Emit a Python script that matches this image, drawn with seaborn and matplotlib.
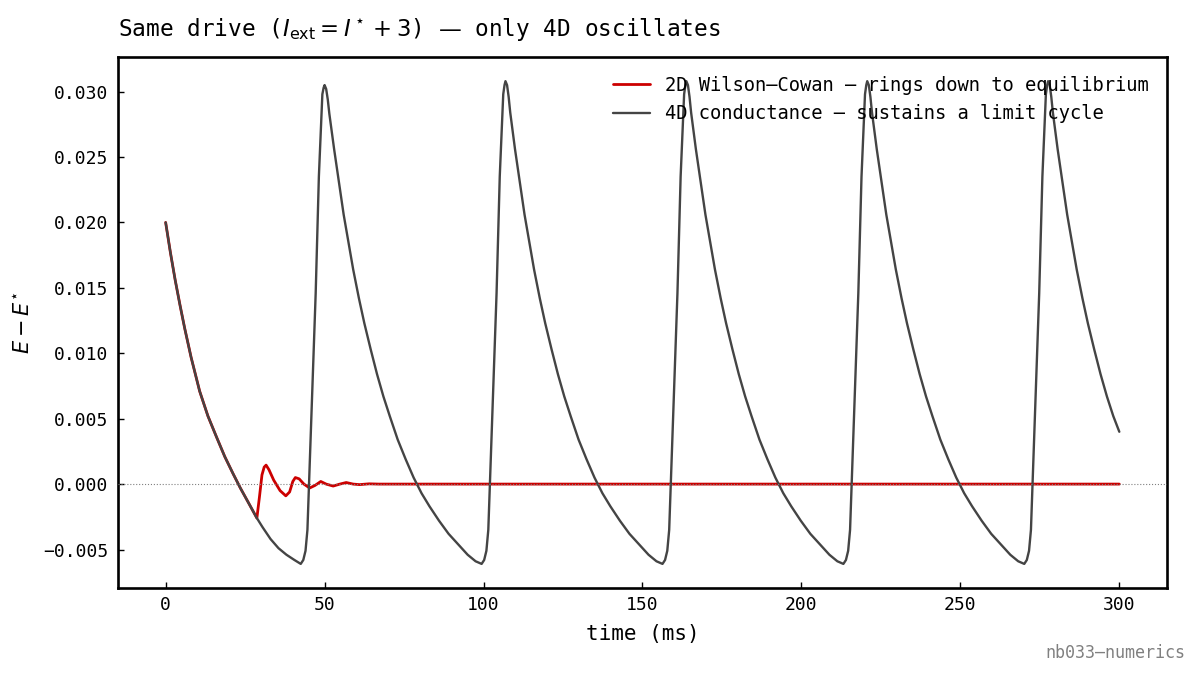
import numpy as np
import matplotlib
matplotlib.use("Agg")
import matplotlib.pyplot as plt
import seaborn as sns

# 2D Wilson-Cowan: decays, then rings down to equilibrium
t_2d = [0, 1.5, 3, 4.5, 6, 8, 10.7, 13.3, 16, 18.6, 21.2, 23.5, 26, 28.7,
        29.5, 30.3, 31.0, 31.6, 32.5, 34, 36, 37.8, 39, 40.0, 40.8, 42, 43.5,
        45.3, 47, 48.8, 50.5, 52.7, 54.8, 56.8, 59, 61, 64, 67, 80, 300]
e_2d = [0.0200, 0.0177, 0.0156, 0.0137, 0.0119, 0.0097, 0.0071, 0.0052, 0.0036, 0.0021, 0.0008, -0.0003,
        -0.0014, -0.0026,
        -0.0010, 0.0007, 0.0013, 0.00145, 0.0011, 0.0003, -0.0005, -0.0009, -0.0006, 0.0002, 0.0005, 0.0004,
        0.0000, -0.0003, -0.0001, 0.0002, 0.0000, -0.00015, 0.0000, 0.00012, 0.0000, -0.00004, 0.00002,
        0.0, 0.0, 0.0]

# 4D conductance model: initial transient + five limit-cycle spikes
t_start = [0, 1.5, 3, 4.5, 6, 8, 10.7, 13.3, 16, 18.6, 21.2, 23.5, 26, 28.7, 30.5, 33, 35.5, 38, 40.5,
           42.5, 43.3, 44.0, 44.6, 45.1, 46.1, 47.2, 48.2, 49.3, 49.7]
e_start = [0.0200, 0.0177, 0.0156, 0.0137, 0.0119, 0.0097, 0.0071, 0.0052, 0.0036, 0.0021, 0.0008, -0.0003,
           -0.0014, -0.0026, -0.0033, -0.0042, -0.0049, -0.0054, -0.0058,
           -0.0061, -0.0058, -0.0051, -0.0035, 0.0000, 0.0069, 0.0146, 0.0235, 0.0298, 0.0303]

t_c1 = [50.0, 50.5, 51.0, 51.5, 53.0, 54.5, 56.0, 57.7, 59.0, 60.8, 62.5, 64.5, 66.5, 68.5, 70.5, 73.0,
        75.5, 78.0, 80.5, 83.0, 86.0, 89.0, 92.0, 95.0, 97.5, 99.4, 100.2, 100.9, 101.5, 102.0, 103.0,
        104.1, 105.1, 106.2, 106.6]
e_c1 = [0.0305, 0.0302, 0.0294, 0.0283, 0.0256, 0.0231, 0.0206, 0.0182, 0.0164, 0.0142, 0.0123, 0.0103,
        0.0084, 0.0067, 0.0052, 0.0034, 0.0019, 0.0005, -0.0007, -0.0017, -0.0028, -0.0038, -0.0046,
        -0.0054, -0.0059, -0.0061, -0.0058, -0.0051, -0.0035, 0.0000, 0.0069, 0.0146, 0.0235, 0.0298, 0.0305]

t_c2 = [106.9, 107.4, 107.9, 108.4, 109.9, 111.4, 112.9, 114.6, 115.9, 117.7, 119.4, 121.4, 123.4, 125.4,
        127.4, 129.9, 132.4, 134.9, 137.4, 139.9, 142.9, 145.9, 148.9, 151.9, 154.4, 156.3, 157.1, 157.8,
        158.4, 158.9, 159.9, 161.0, 162.0, 163.1, 163.5]
e_c2 = [0.0308, 0.0305, 0.0296, 0.0284, 0.0256, 0.0231, 0.0206, 0.0182, 0.0164, 0.0142, 0.0123, 0.0103,
        0.0084, 0.0067, 0.0052, 0.0034, 0.0019, 0.0005, -0.0007, -0.0017, -0.0028, -0.0038, -0.0046,
        -0.0054, -0.0059, -0.0061, -0.0058, -0.0051, -0.0035, 0.0000, 0.0069, 0.0146, 0.0235, 0.0298, 0.0305]

t_c3 = [163.8, 164.3, 164.8, 165.3, 166.8, 168.3, 169.8, 171.5, 172.8, 174.6, 176.3, 178.3, 180.3, 182.3,
        184.3, 186.8, 189.3, 191.8, 194.3, 196.8, 199.8, 202.8, 205.8, 208.8, 211.3, 213.2, 214.0, 214.7,
        215.3, 215.8, 216.8, 217.9, 218.9, 220.0, 220.4]
e_c3 = [0.0308, 0.0305, 0.0296, 0.0284, 0.0256, 0.0231, 0.0206, 0.0182, 0.0164, 0.0142, 0.0123, 0.0103,
        0.0084, 0.0067, 0.0052, 0.0034, 0.0019, 0.0005, -0.0007, -0.0017, -0.0028, -0.0038, -0.0046,
        -0.0054, -0.0059, -0.0061, -0.0058, -0.0051, -0.0035, 0.0000, 0.0069, 0.0146, 0.0235, 0.0298, 0.0305]

t_c4 = [220.7, 221.2, 221.7, 222.2, 223.7, 225.2, 226.7, 228.4, 229.7, 231.5, 233.2, 235.2, 237.2, 239.2,
        241.2, 243.7, 246.2, 248.7, 251.2, 253.7, 256.7, 259.7, 262.7, 265.7, 268.2, 270.1, 270.9, 271.6,
        272.2, 272.7, 273.7, 274.8, 275.8, 276.9, 277.3]
e_c4 = [0.0308, 0.0305, 0.0296, 0.0284, 0.0256, 0.0231, 0.0206, 0.0182, 0.0164, 0.0142, 0.0123, 0.0103,
        0.0084, 0.0067, 0.0052, 0.0034, 0.0019, 0.0005, -0.0007, -0.0017, -0.0028, -0.0038, -0.0046,
        -0.0054, -0.0059, -0.0061, -0.0058, -0.0051, -0.0035, 0.0000, 0.0069, 0.0146, 0.0235, 0.0298, 0.0305]

t_c5 = [277.6, 278.1, 278.6, 279.1, 280.6, 282.1, 283.6, 285.3, 286.6, 288.4, 290.1, 292.1, 294.1, 296.1,
        298.1, 300.0]
e_c5 = [0.0308, 0.0305, 0.0296, 0.0284, 0.0256, 0.0231, 0.0206, 0.0182, 0.0164, 0.0142, 0.0123, 0.0103,
        0.0084, 0.0067, 0.0052, 0.0040]

t_4d = t_start + t_c1 + t_c2 + t_c3 + t_c4 + t_c5
e_4d = e_start + e_c1 + e_c2 + e_c3 + e_c4 + e_c5

label_2d = "2D Wilson–Cowan — rings down to equilibrium"
label_4d = "4D conductance — sustains a limit cycle"

sns.set_theme(style="white")
plt.rcParams['font.family'] = ['DejaVu Sans Mono', 'DejaVu Sans']
plt.rcParams['text.color'] = 'black'
plt.rcParams['axes.labelcolor'] = 'black'
plt.rcParams['xtick.color'] = 'black'
plt.rcParams['ytick.color'] = 'black'

fig = plt.figure(figsize=(12, 6.78), dpi=100)
ax = fig.add_axes([0.0983, 0.1327, 0.8742, 0.7832])

sns.lineplot(x=t_2d, y=e_2d, ax=ax, color="#cc0000", lw=2.0, label=label_2d, sort=False)
sns.lineplot(x=t_4d, y=e_4d, ax=ax, color="#444444", lw=1.7, label=label_4d, sort=False)
ax.axhline(0, color="gray", lw=0.8, ls=":", zorder=3)

ax.set_xlabel("time (ms)", fontsize=15, labelpad=7)
ax.set_ylabel(r"$E - E^{\star}$", fontsize=15, labelpad=6.5)
ax.set_title(r"Same drive ($I_{\rm ext} = I^\star + 3$) — only 4D oscillates",
             loc="left", fontsize=16.4, pad=15)

for s in ax.spines.values():
    s.set_color("black")
    s.set_linewidth(1.9)
ax.tick_params(axis="both", direction="in", labelsize=13, length=4, width=1,
               left=True, bottom=True)
ax.tick_params(axis="x", pad=5.8)
ax.tick_params(axis="y", pad=7)

ax.legend(loc="upper right", bbox_to_anchor=(0.999, 0.996), frameon=False, fontsize=13.5)

fig.text(0.9875, 0.037, "nb033—numerics", ha="right", va="center",
         color="gray", fontsize=12)

fig.savefig("out.png", dpi=100)
